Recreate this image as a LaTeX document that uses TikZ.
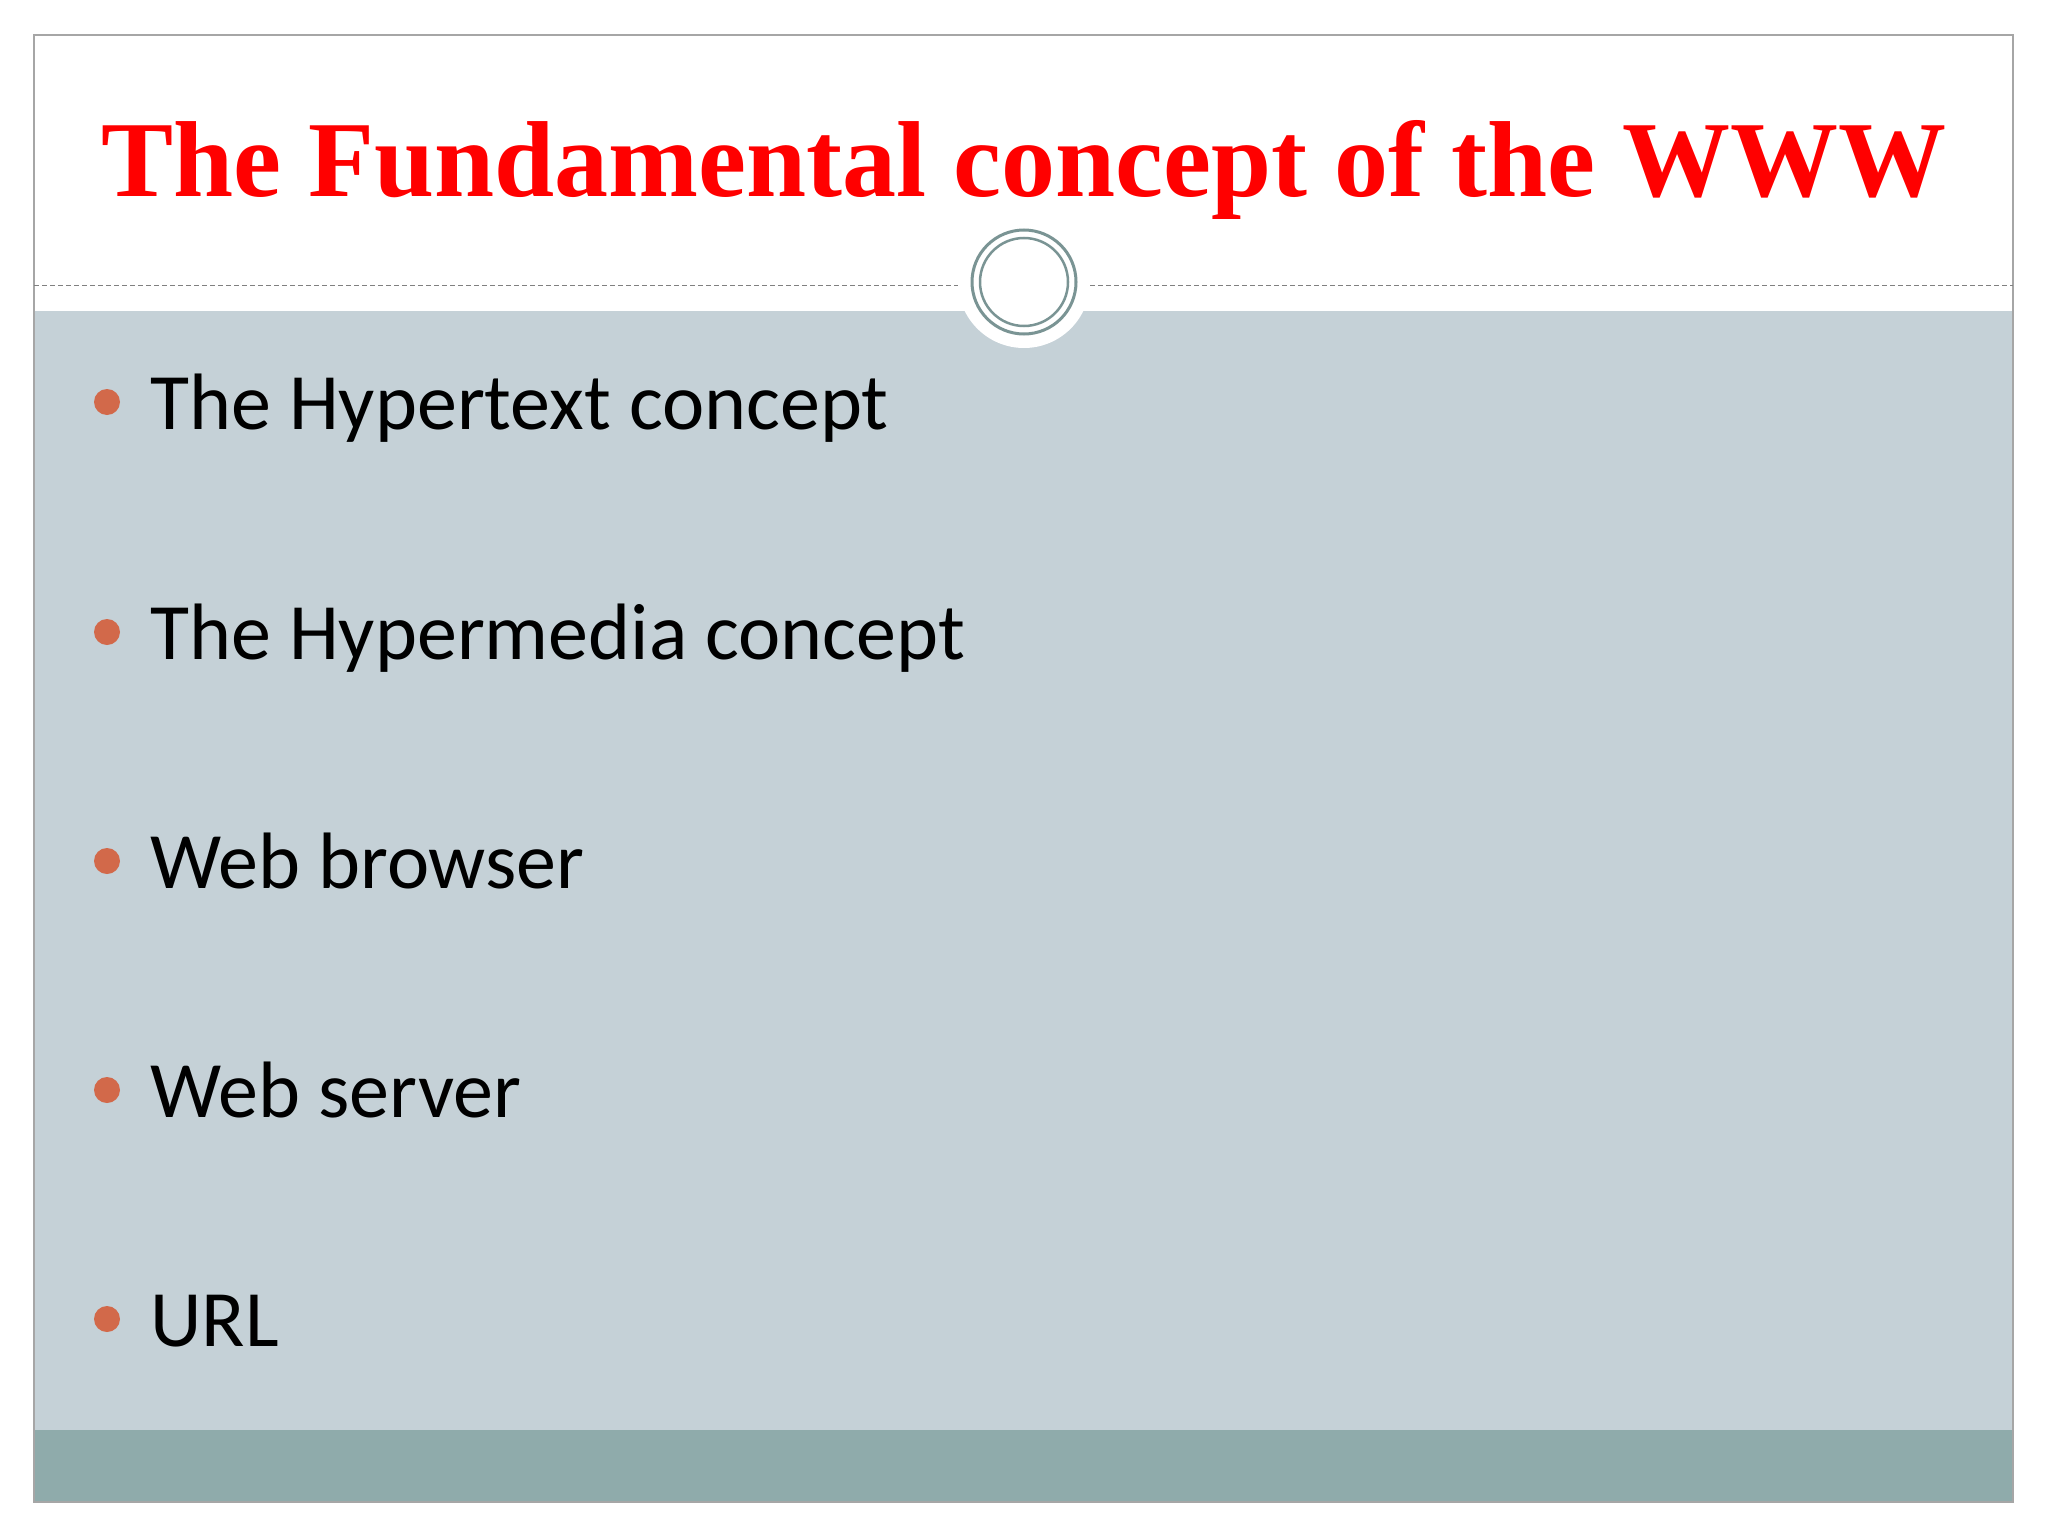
\documentclass[tikz,border=0pt]{standalone}
\usepackage{fontspec}
\setmainfont{Carlito}
\newfontfamily\titlefont{Liberation Serif}
\definecolor{bodygray}{HTML}{C5D1D7}
\definecolor{bandgray}{HTML}{8FABAB}
\definecolor{bulletc}{HTML}{D2694A}
\definecolor{ringc}{HTML}{7A9494}
\tikzset{
  item/.style={anchor=base west, inner sep=0pt, font=\fontsize{80}{90}\selectfont, text=black},
  dot/.style={circle, fill=bulletc, minimum size=26pt, inner sep=0pt}
}
\begin{document}
\begin{tikzpicture}[x=1pt,y=-1pt]
\useasboundingbox (0,0) rectangle (2048,1536);
\fill[white] (0,0) rectangle (2048,1536);
\fill[bodygray] (34,311) rectangle (2013,1430);
\fill[bandgray] (34,1430) rectangle (2013,1502);
\draw[gray!70, line width=1.5pt] (34,35) rectangle (2013,1502);
\draw[gray, dash pattern=on 5pt off 3pt, line width=1pt] (34,285) -- (2013,285);
\fill[white] (1024,282) circle (66);
\node[circle, draw=ringc, line width=3pt, minimum size=104pt, inner sep=0pt] (ring) at (1024,282) {};
\draw[ringc, line width=2.5pt] (ring.center) circle (44);
\node[inner sep=0pt, text=red, font=\titlefont\bfseries\fontsize{108}{118}\selectfont] (title) at (1024,170) {The Fundamental concept of the WWW};
\foreach \y/\t [count=\i] in {402/The Hypertext concept, 632/The Hypermedia concept, 861/Web browser, 1090/Web server, 1319/URL}{
  \node[dot] (d\i) at (107,\y) {};
  \node[item] (t\i) at (150,\y+27) {\t};
}
\end{tikzpicture}
\end{document}
